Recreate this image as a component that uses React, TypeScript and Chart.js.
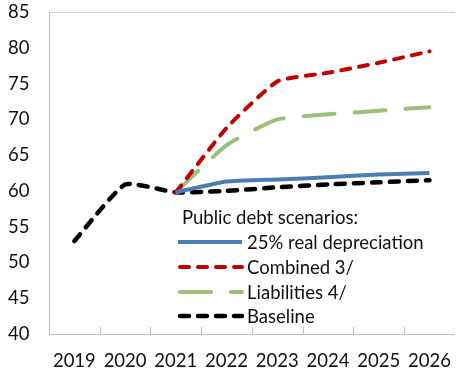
import React, { useEffect, useRef } from 'react';
import { Chart, registerables } from 'chart.js';

Chart.register(...registerables);

const years = ['2019', '2020', '2021', '2022', '2023', '2024', '2025', '2026'];
const baseline = [53.0, 60.9, 59.8, 60.0, 60.5, 60.9, 61.2, 61.5];
const depreciation = [null, null, 59.8, 61.3, 61.6, 61.9, 62.3, 62.5];
const combined = [null, null, 59.8, 68.8, 75.3, 76.5, 77.9, 79.5];
const liabilities = [null, null, 59.8, 66.4, 70.0, 70.7, 71.2, 71.7];
const yMin = 40;
const yMax = 85;
const yStep = 5;
const legendTitle = 'Public debt scenarios:';
const seriesLabels = ['25% real depreciation', 'Combined 3/', 'Liabilities 4/', 'Baseline'];

const FONT = 'Lato, "Open Sans", sans-serif';
const TEXT = '#111111';
const FS = 18.5;

const styles = [
  { color: '#4A7EB0', dash: [] as number[], width: 4 },
  { color: '#C00000', dash: [9, 9], width: 4 },
  { color: '#9BC07C', dash: [31, 20], width: 4 },
  { color: '#000000', dash: [9, 9], width: 4.5 },
];

const frame = {
  id: 'frame',
  afterDraw(chart: any) {
    const x = chart.scales.x;
    const ctx = chart.ctx;
    const { top, bottom, left, right } = chart.chartArea;
    ctx.save();
    ctx.strokeStyle = '#d0d0d0';
    ctx.lineWidth = 1;
    ctx.beginPath();
    ctx.moveTo(left, Math.round(top) + 0.5);
    ctx.lineTo(right, Math.round(top) + 0.5);
    ctx.stroke();
    ctx.strokeStyle = '#bfbfbf';
    for (let i = 1; i < years.length; i++) {
      const px = Math.round((x.getPixelForValue(i - 1) + x.getPixelForValue(i)) / 2) + 0.5;
      ctx.beginPath();
      ctx.moveTo(px, bottom);
      ctx.lineTo(px, bottom - 7);
      ctx.stroke();
    }
    ctx.restore();
  },
};

const customLegend = {
  id: 'customLegend',
  afterDraw(chart: any) {
    const ctx = chart.ctx;
    ctx.save();
    ctx.font = `${FS}px ${FONT}`;
    ctx.fillStyle = TEXT;
    ctx.textBaseline = 'middle';
    ctx.textAlign = 'left';
    ctx.fillText(legendTitle, 182, 218);
    const rows = [242, 267, 292, 316];
    seriesLabels.forEach((label, i) => {
      const s = styles[i];
      ctx.save();
      ctx.strokeStyle = s.color;
      ctx.lineWidth = s.width;
      ctx.lineCap = i === 0 ? 'butt' : 'round';
      ctx.setLineDash(s.dash);
      ctx.beginPath();
      ctx.moveTo(i === 0 ? 178 : 180, rows[i]);
      ctx.lineTo(242, rows[i]);
      ctx.stroke();
      ctx.restore();
      ctx.fillStyle = TEXT;
      ctx.fillText(label, 247, rows[i] + 1);
    });
    ctx.restore();
  },
};

export default function App() {
  const ref = useRef<HTMLCanvasElement | null>(null);
  useEffect(() => {
    if (!ref.current) return;
    const data = [depreciation, combined, liabilities, baseline];
    const chart = new Chart(ref.current, {
      type: 'line',
      data: {
        labels: years,
        datasets: data.map((d, i) => ({
          label: seriesLabels[i],
          data: d,
          borderColor: styles[i].color,
          backgroundColor: styles[i].color,
          borderWidth: styles[i].width,
          borderDash: styles[i].dash,
          borderCapStyle: i === 0 ? 'butt' : 'round',
          pointRadius: 0,
          tension: 0.15,
          fill: false,
          spanGaps: false,
        })) as any,
      },
      options: {
        animation: false,
        responsive: true,
        maintainAspectRatio: false,
        layout: { padding: { top: 12, right: 1, left: 8, bottom: 0 } },
        plugins: { legend: { display: false }, tooltip: { enabled: false } },
        scales: {
          x: {
            offset: true,
            grid: { display: false, drawTicks: false },
            border: { display: true, color: '#bfbfbf', width: 1 },
            ticks: { font: { family: FONT, size: FS }, color: TEXT, padding: 16, maxRotation: 0 },
            afterFit(scale: any) {
              scale.height = 37;
            },
          },
          y: {
            min: yMin,
            max: yMax,
            ticks: { stepSize: yStep, font: { family: FONT, size: FS }, color: TEXT, padding: 0, crossAlign: 'far' },
            grid: { display: false, drawTicks: false },
            border: { display: true, color: '#bfbfbf', width: 1 },
            afterFit(scale: any) {
              scale.width = 41;
            },
          },
        },
      },
      plugins: [frame, customLegend],
    });
    return () => chart.destroy();
  }, []);
  return (
    <div style={{ position: 'fixed', left: 0, top: 0, width: 462, height: 371, overflow: 'hidden', background: '#fff' }}>
      <div style={{ position: 'relative', width: 467, height: 371 }}>
        <canvas ref={ref} />
      </div>
    </div>
  );
}
